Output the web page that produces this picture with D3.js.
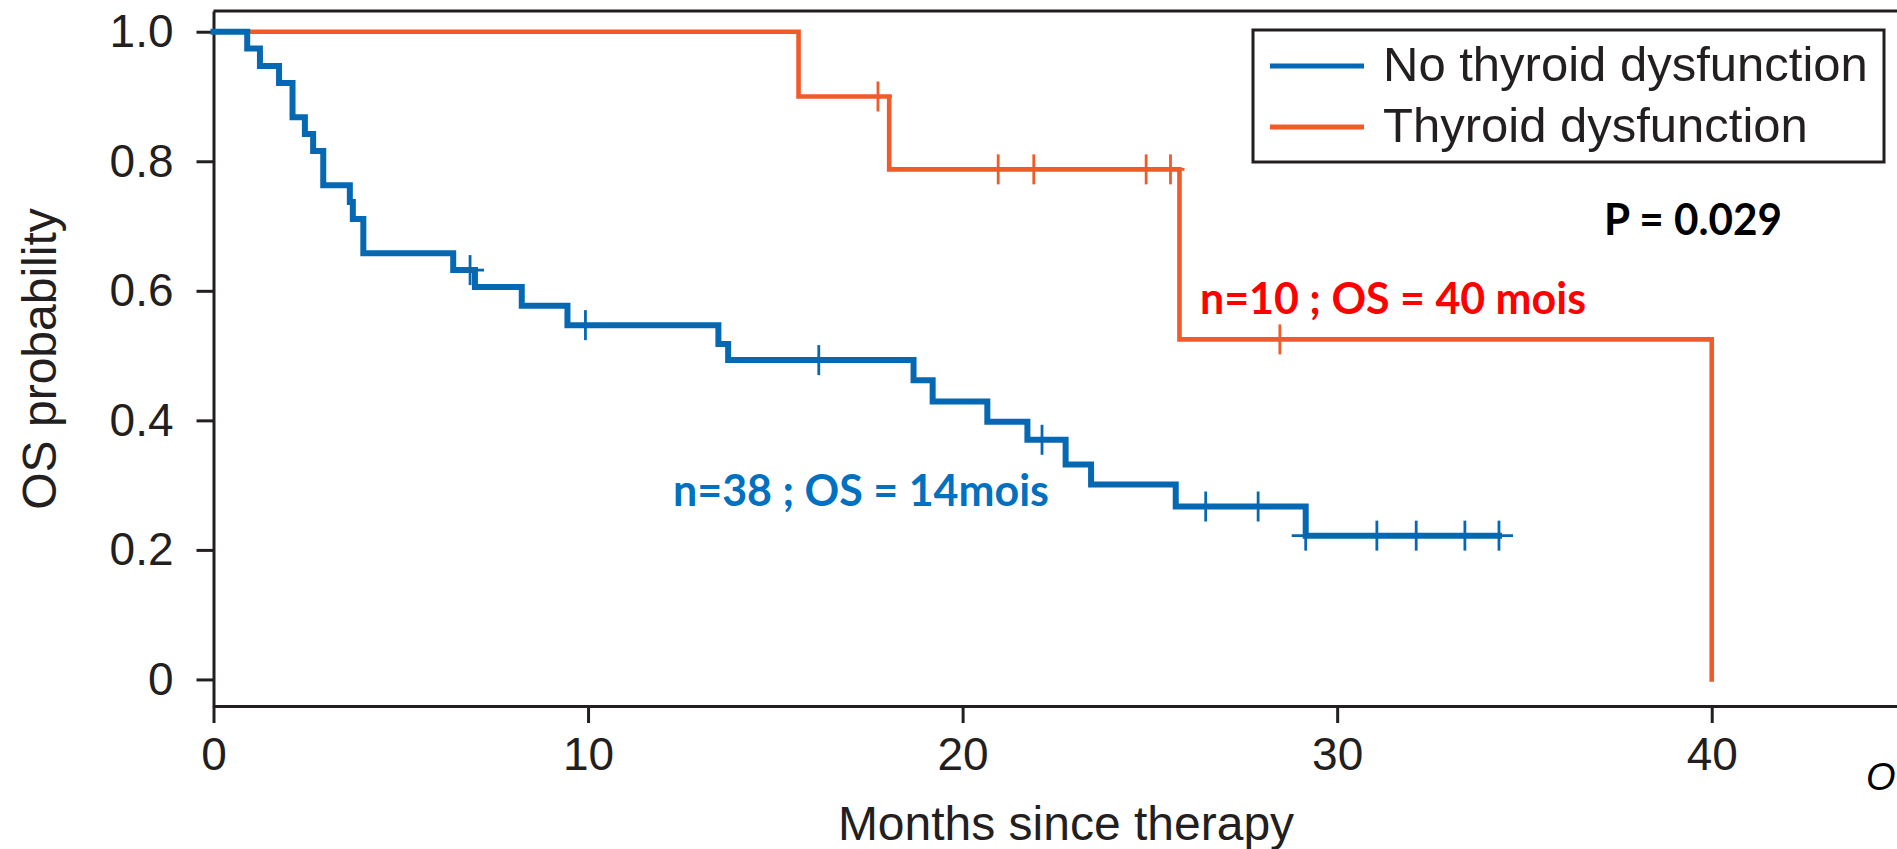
<!DOCTYPE html>
<meta charset="utf-8">
<style>
  body { margin: 0; background: #fff; overflow: hidden; }
  .axis text { font-family: "Liberation Sans", Arial, sans-serif; font-size: 46px; fill: #231f20; }
  .axis line, .axis path { stroke: #231f20; stroke-width: 3; }
</style>
<svg id="chart" width="1897" height="849"></svg>
<script src="https://d3js.org/d3.v7.min.js"></script>
<script>

// ticks
var xTicks = [0, 10, 20, 30, 40];
var yTicks = [0, 0.2, 0.4, 0.6, 0.8, 1.0];
var yTickLabels = ["0", "0.2", "0.4", "0.6", "0.8", "1.0"];

// no thyroid dysfunction (n=38): event times / survival after the drop
var blueTimes = [0.9, 1.24, 1.75, 2.11, 2.44, 2.66, 2.93, 3.64, 3.72, 4.0, 6.4, 6.98, 8.23, 9.45,
  13.48, 13.74, 18.69, 19.2, 20.66, 21.73, 22.75, 23.43, 25.69, 29.16];
var blueSurv = [0.974, 0.947, 0.921, 0.868, 0.842, 0.816, 0.763, 0.737, 0.711, 0.658, 0.632, 0.606, 0.577, 0.547,
  0.518, 0.493, 0.462, 0.429, 0.398, 0.370, 0.332, 0.301, 0.267, 0.222];
var blueCensor = [6.85, 9.93, 16.16, 22.12, 26.49, 27.89, 29.16, 31.06, 32.11, 33.41, 34.32];
var blueEnd = 34.32;

// thyroid dysfunction (n=10)
var orangeTimes = [15.62, 18.04, 25.79, 40.0];
var orangeSurv = [0.9, 0.7875, 0.525, 0];
var orangeCensor = [17.74, 20.95, 21.9, 24.9, 25.55, 28.47];
var orangeEnd = 40.0;

var seriesNames = ["No thyroid dysfunction", "Thyroid dysfunction"];
var blue = "#0568b3", orange = "#f15a29";

var svg = d3.select("#chart");

var x = d3.scaleLinear().domain([0, 45]).range([213.5, 1899]);
var y = d3.scaleLinear().domain([-0.041, 1.032]).range([706, 11]);

// frame top line
svg.append("line")
    .attr("x1", x(0)).attr("x2", x(45))
    .attr("y1", y(1.032)).attr("y2", y(1.032))
    .attr("stroke", "#231f20").attr("stroke-width", 3);

var xAxis = svg.append("g")
    .attr("class", "axis")
    .attr("transform", "translate(0," + y(-0.041) + ")")
    .call(d3.axisBottom(x).tickValues(xTicks).tickSize(17).tickSizeOuter(0).tickPadding(14).tickFormat(d3.format("d")));
xAxis.selectAll("text").attr("dy", "0.71em");

var yAxis = svg.append("g")
    .attr("class", "axis")
    .attr("transform", "translate(" + x(0) + ",0)")
    .call(d3.axisLeft(y).tickValues(yTicks).tickSize(17).tickSizeOuter(0).tickPadding(23)
      .tickFormat(function(d, i) { return yTickLabels[i]; }));
yAxis.selectAll(".tick").filter(function(d) { return d === 1; }).select("line").attr("stroke", blue);

// axis titles
svg.append("text")
    .attr("transform", "translate(56,359) rotate(-90)")
    .attr("text-anchor", "middle")
    .attr("font-family", "Liberation Sans, Arial, sans-serif")
    .attr("font-size", 48)
    .attr("fill", "#231f20")
    .text("OS probability");

svg.append("text")
    .attr("x", 1066).attr("y", 840)
    .attr("text-anchor", "middle")
    .attr("font-family", "Liberation Sans, Arial, sans-serif")
    .attr("font-size", 48)
    .attr("fill", "#231f20")
    .text("Months since therapy");

function stepPoints(times, surv, end) {
  var pts = [[0, 1]];
  times.forEach(function(t, i) { pts.push([t, surv[i]]); });
  if (end > times[times.length - 1]) pts.push([end, surv[surv.length - 1]]);
  return pts;
}

function levelAt(t, times, surv) {
  var s = 1;
  times.forEach(function(tt, i) { if (tt <= t) s = surv[i]; });
  return s;
}

var line = d3.line()
    .x(function(d) { return x(d[0]); })
    .y(function(d) { return y(d[1]); })
    .curve(d3.curveStepAfter);

function drawCurve(times, surv, censor, end, color, width) {
  svg.append("path")
      .datum(stepPoints(times, surv, end))
      .attr("fill", "none")
      .attr("stroke", color)
      .attr("stroke-width", width)
      .attr("stroke-linecap", "square")
      .attr("d", line);

  var marks = svg.append("g").attr("stroke", color).attr("stroke-width", 2.8);
  censor.forEach(function(t) {
    var cx = x(t), cy = y(levelAt(t, times, surv));
    marks.append("line").attr("x1", cx).attr("x2", cx).attr("y1", cy - 15).attr("y2", cy + 15);
    marks.append("line").attr("x1", cx - 14).attr("x2", cx + 14).attr("y1", cy).attr("y2", cy);
  });
}

drawCurve(orangeTimes, orangeSurv, orangeCensor, orangeEnd, orange, 4.6);
drawCurve(blueTimes, blueSurv, blueCensor, blueEnd, blue, 6);

// legend
var legend = svg.append("g");
legend.append("rect")
    .attr("x", 1253).attr("y", 30).attr("width", 631).attr("height", 132)
    .attr("fill", "#fff").attr("stroke", "#231f20").attr("stroke-width", 3);
[blue, orange].forEach(function(c, i) {
  var ly = 66 + i * 61;
  legend.append("line")
      .attr("x1", 1270).attr("x2", 1364).attr("y1", ly).attr("y2", ly)
      .attr("stroke", c).attr("stroke-width", 5);
  legend.append("text")
      .attr("x", 1383).attr("y", ly + 15)
      .attr("font-family", "Liberation Sans, Arial, sans-serif")
      .attr("font-size", 49)
      .attr("fill", "#231f20")
      .text(seriesNames[i]);
});

// annotations
function note(txt, tx, ty, len, color) {
  svg.append("text")
      .attr("x", tx).attr("y", ty)
      .attr("font-family", "Lato, 'Open Sans', sans-serif")
      .attr("font-weight", "bold")
      .attr("font-size", 43)
      .attr("fill", color)
      .attr("textLength", len)
      .attr("lengthAdjust", "spacingAndGlyphs")
      .text(txt);
}
note("P = 0.029", 1604, 235, 178, "#000");
note("n=10 ; OS = 40 mois", 1200, 314, 386, "#ff0000");
note("n=38 ; OS = 14mois", 673, 506, 376, "#0070c0");

// italic letter at the right edge
svg.append("text")
    .attr("x", 1866).attr("y", 790)
    .attr("font-family", "Liberation Sans, Arial, sans-serif")
    .attr("font-style", "italic")
    .attr("font-size", 38)
    .attr("fill", "#000")
    .text("O");

</script>
